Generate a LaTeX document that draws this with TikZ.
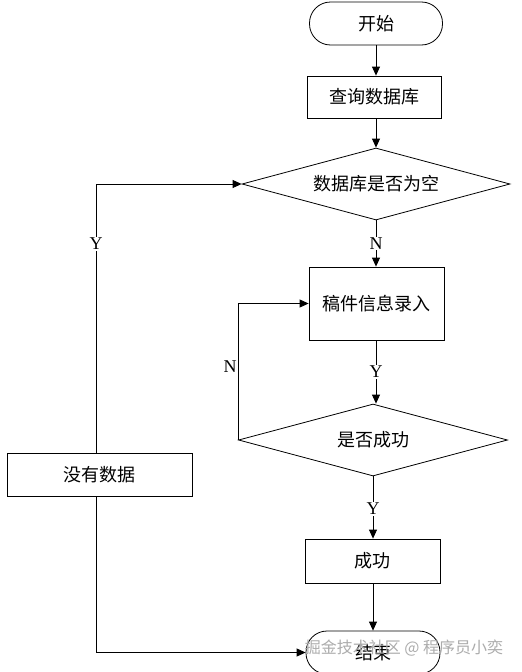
\documentclass[tikz,border=0pt]{standalone}
\usepackage{fontspec}
\setmainfont{Liberation Serif}
\newfontfamily\cjk{Noto Sans CJK SC}
\usetikzlibrary{shapes.geometric,arrows.meta}
\begin{document}
\begin{tikzpicture}[x=1pt,y=-1pt,
  box/.style={draw, line width=0.8pt, inner sep=0pt, font=\cjk\fontsize{18}{21}\selectfont},
  term/.style={box, rounded corners=21pt},
  dec/.style={box, diamond, aspect=3.7},
  arr/.style={line width=0.8pt, -{Triangle[length=9pt,width=8pt]}},
  ln/.style={line width=0.8pt},
  lbl/.style={font=\fontsize{18}{21}\selectfont, fill=white, inner sep=1pt}
]
\clip (0,0) rectangle (522,672);
\fill[white] (0,0) rectangle (522,672);

\node[term, minimum width=133pt, minimum height=43pt] (start) at (376,23.5) {开始};
\node[box, minimum width=134pt, minimum height=42pt] (query) at (374,97) {查询数据库};
\node[dec, minimum width=268pt, minimum height=72pt] (d1) at (376,184) {数据库是否为空};
\node[box, minimum width=135pt, minimum height=73pt] (input) at (376.5,303.5) {稿件信息录入};
\node[dec, minimum width=269pt, minimum height=72pt] (d2) at (373,440) {是否成功};
\node[box, minimum width=135pt, minimum height=44pt] (ok) at (372.5,561) {成功};
\node[term, minimum width=134pt, minimum height=43pt] (end) at (373,652.5) {结束};
\node[box, minimum width=185pt, minimum height=43pt] (nd) at (99.5,474.5) {没有数据};

\draw[arr] (start.south -| 376,0) -- (query.north -| 376,0);
\draw[arr] (query.south -| 376,0) -- (d1.north);
\draw[arr] (d1.south) -- node[lbl]{N} (input.north -| d1.south);
\draw[arr] (input.south -| 376,0) -- node[lbl]{Y} (d2.north -| 376,0);
\draw[arr] (d2.south) -- node[lbl, pos=0.52]{Y} (ok.north -| d2.south);
\draw[arr] (ok.south -| d2.south) -- (end.north -| d2.south);
\draw[arr] (d2.west) |- node[pos=0.27, left=0pt, inner sep=1pt, font=\fontsize{18}{21}\selectfont]{N} (input.west);
\draw[arr] ([xshift=-3.5pt]nd.north) |- (d1.west);
\node[lbl] (ylab) at (96,244) {Y};
\draw[arr] ([xshift=-3.5pt]nd.south) |- (end.west);

\node[font=\cjk\fontsize{16}{18}\selectfont, text=gray!65] (wm) at (404,648) {掘金技术社区 @ 程序员小奕};
\end{tikzpicture}
\end{document}
